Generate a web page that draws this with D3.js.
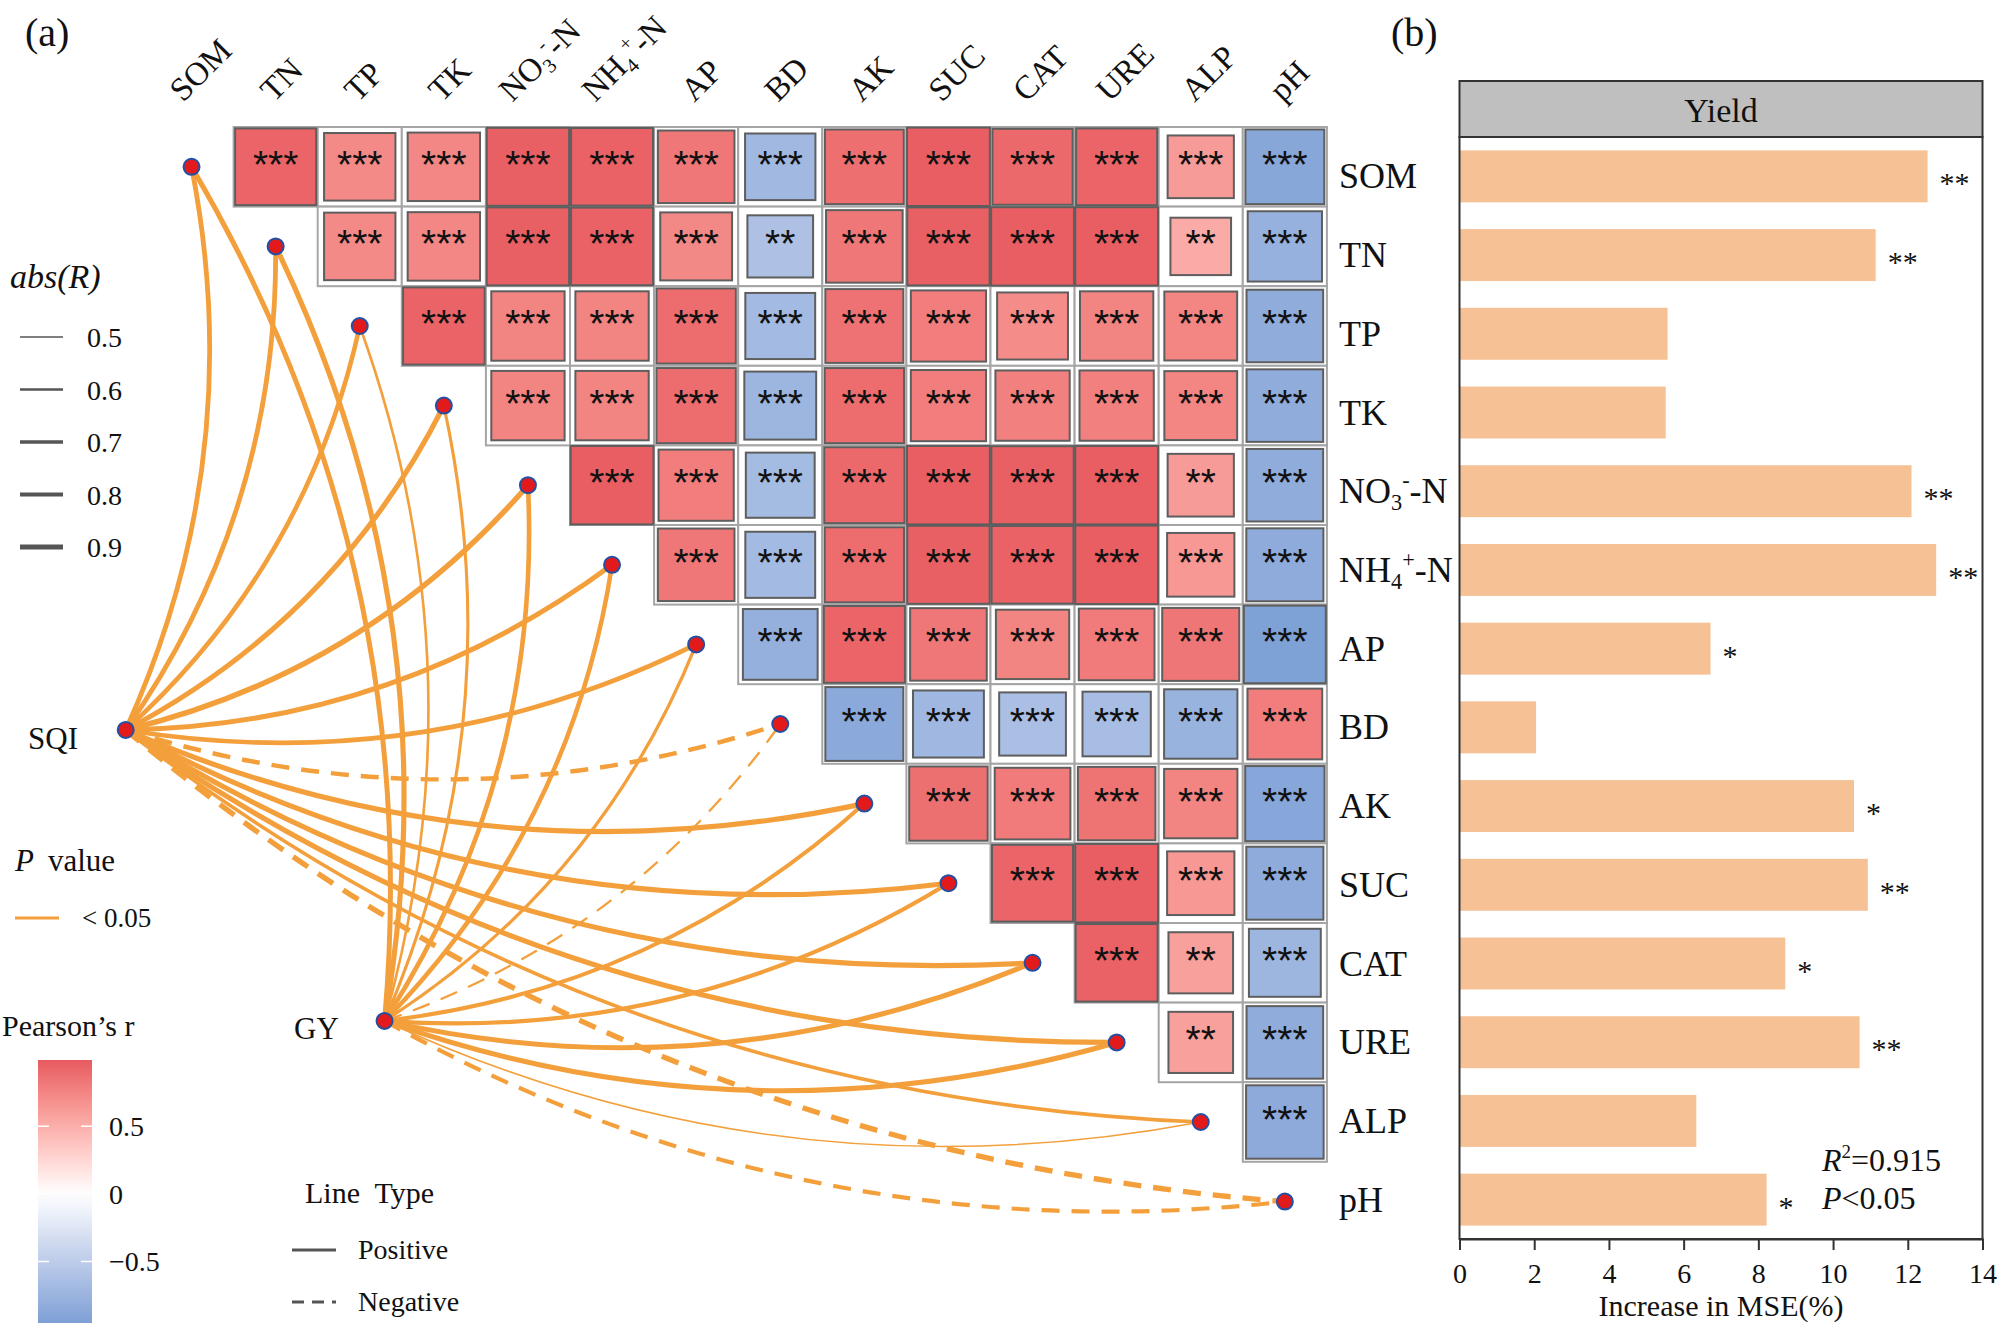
<!DOCTYPE html>
<html><head><meta charset="utf-8">
<script src="https://cdn.jsdelivr.net/npm/d3@7"></script>
<style>
body{margin:0;background:#fff}
svg{display:block}
text{font-family:"Liberation Serif","Times New Roman",serif;fill:#111}
</style>
</head><body>
<svg id="chart" width="2000" height="1333"></svg>
<script>
// ---------------- DATA ----------------
const variables = ["SOM","TN","TP","TK","NO3","NH4","AP","BD","AK","SUC","CAT","URE","ALP","pH"];
const labelParts = {
  NO3: [["NO",""],["3","sub"],["-","sup"],["-N",""]],
  NH4: [["NH",""],["4","sub"],["+","sup"],["-N",""]]
};
// Pearson's r, upper triangle: each row = row variable vs the following variables
const corrSOM = [0.93,0.72,0.74,0.96,0.95,0.83,-0.70,0.88,0.97,0.91,0.93,0.62,-0.88];
const corrTN  = [0.72,0.74,0.96,0.95,0.73,-0.61,0.83,0.96,0.97,0.97,0.52,-0.78];
const corrTP  = [0.94,0.76,0.76,0.89,-0.69,0.86,0.80,0.71,0.76,0.75,-0.83];
const corrTK  = [0.76,0.76,0.89,-0.73,0.89,0.80,0.78,0.78,0.75,-0.83];
const corrNO3 = [0.97,0.80,-0.67,0.91,0.97,0.96,0.97,0.62,-0.83];
const corrNH4 = [0.83,-0.69,0.89,0.96,0.95,0.97,0.64,-0.84];
const corrAP  = [-0.79,0.93,0.83,0.76,0.81,0.84,-0.95];
const corrBD  = [-0.86,-0.71,-0.63,-0.66,-0.76,0.79];
const corrAK  = [0.87,0.81,0.85,0.76,-0.89];
const corrSUC = [0.93,0.97,0.64,-0.84];
const corrCAT = [0.95,0.59,-0.73];
const corrURE = [0.59,-0.83];
const corrALP = [-0.85];
const corrRows = [corrSOM,corrTN,corrTP,corrTK,corrNO3,corrNH4,corrAP,corrBD,corrAK,corrSUC,corrCAT,corrURE,corrALP];
const twoStarPairs = [["TN","BD"],["TN","ALP"],["NO3","ALP"],["CAT","ALP"],["URE","ALP"]];

// links: r of SQI and GY with each variable (sign -> line type)
const envNames = ["SQI","GY"];
const sqiR = [0.88,0.88,0.85,0.92,0.95,0.90,0.86,-0.84,0.92,0.92,0.92,0.92,0.74,-0.94];
const gyR  = [0.90,0.92,0.62,0.68,0.86,0.84,0.70,-0.58,0.78,0.80,0.90,0.92,0.50,-0.80];
const envGridPos = {SQI:[-0.283,7.575], GY:[2.795,11.23]}; // in grid units

// Random forest importance (panel b)
const mseIncrease = [12.53,11.14,5.57,5.52,12.10,12.76,6.72,2.05,10.56,10.93,8.72,10.71,6.34,8.22];
const mseSig = ["**","**","","","**","**","*","","*","**","*","**","","*"];
const mseTicks = [0,2,4,6,8,10,12,14];
const absRLegend = [0.5,0.6,0.7,0.8,0.9];
const colorbarTicks = [0.5,0,-0.5];

// ---------------- SCALES ----------------
const svg = d3.select("#chart");
const SERIF = "'Liberation Serif','Times New Roman',serif";
const gridLeft = 149.5, gridTop = 127, cellW = 84.1, cellH = 79.6;
const xCell = d3.scaleBand().domain(variables).range([gridLeft, gridLeft + cellW*14]);
const yCell = d3.scaleBand().domain(variables).range([gridTop, gridTop + cellH*14]);
const gx = d3.scaleLinear().domain([0,14]).range([gridLeft, gridLeft + cellW*14]);
const gy = d3.scaleLinear().domain([0,14]).range([gridTop, gridTop + cellH*14]);
const color = d3.scaleLinear().domain([-1,0,1]).range(["#779CD4","#ffffff","#E7585E"]).interpolate(d3.interpolateLab);
const widthScale = d3.scaleLinear().domain([0.5,0.9]).range([1.6,5.0]);
const linkColor = "#F3A03C";

function addLabel(sel, v, fs){
  const parts = labelParts[v] || [[v,""]];
  let shift = 0;
  parts.forEach(([t,type])=>{
    const ts = sel.append("tspan").text(t);
    const target = type==="sub" ? 0.2*fs : type==="sup" ? -0.42*fs : 0;
    ts.attr("dy", target - shift); shift = target;
    if (type) ts.attr("font-size", fs*0.62);
  });
}

// ---------------- PANEL LABELS ----------------
svg.append("text").attr("x",25).attr("y",46).attr("font-size",40).text("(a)");
svg.append("text").attr("x",1391).attr("y",46).attr("font-size",40).text("(b)");

// ---------------- COLUMN LABELS ----------------
variables.forEach(v=>{
  const t = svg.append("text").attr("font-size",33).style("font-family",SERIF);
  addLabel(t, v, 33);
  const len = t.node().getComputedTextLength();
  const ox = -2 - Math.max(0, 0.25*(len-45));
  t.attr("transform",`translate(${xCell(v)+xCell.bandwidth()/2+ox},103) rotate(-45)`);
});

// ---------------- LINKS ----------------
function curvePath(s, t, k){
  const dx=t[0]-s[0], dy=t[1]-s[1], L=Math.hypot(dx,dy);
  const nx=-dy/L, ny=dx/L;
  const p=d3.path();
  p.moveTo(s[0],s[1]);
  p.quadraticCurveTo((s[0]+t[0])/2+nx*k*L,(s[1]+t[1])/2+ny*k*L,t[0],t[1]);
  return p.toString();
}
const nodePos = v => [xCell(v)+xCell.bandwidth()/2, yCell(v)+yCell.bandwidth()/2];
const envPos = e => [gx(envGridPos[e][0]), gy(envGridPos[e][1])];
const links = [];
variables.forEach((v,i)=>{
  links.push({env:"SQI", v, r:sqiR[i]});
  links.push({env:"GY", v, r:gyR[i]});
});
const linkG = svg.append("g");
linkG.selectAll("path").data(links).join("path")
  .attr("d", d=>curvePath(envPos(d.env), nodePos(d.v), 0.16))
  .attr("fill","none").attr("stroke",linkColor)
  .attr("stroke-width", d=>widthScale(Math.abs(d.r)))
  .attr("stroke-dasharray", d=>d.r<0 ? "18,12" : null);

// ---------------- HEATMAP ----------------
const cells = [];
corrRows.forEach((row,i)=>{
  row.forEach((r,k)=>{
    const rv = variables[i], cv = variables[i+1+k];
    const two = twoStarPairs.some(p=>p[0]===rv && p[1]===cv);
    cells.push({rv, cv, r, sig: two ? "**" : "***"});
  });
});
const cellG = svg.append("g");
cellG.selectAll("rect.outer").data(cells).join("rect").attr("class","outer")
  .attr("x",d=>xCell(d.cv)).attr("y",d=>yCell(d.rv))
  .attr("width",xCell.bandwidth()).attr("height",yCell.bandwidth())
  .attr("fill","#fff").attr("stroke","#A5A5A5").attr("stroke-width",2);
cellG.selectAll("rect.inner").data(cells).join("rect").attr("class","inner")
  .each(function(d){
    const f = Math.sqrt(Math.abs(d.r));
    const w = xCell.bandwidth()*f, h = yCell.bandwidth()*f;
    d3.select(this)
      .attr("x", xCell(d.cv)+(xCell.bandwidth()-w)/2)
      .attr("y", yCell(d.rv)+(yCell.bandwidth()-h)/2)
      .attr("width", w).attr("height", h);
  })
  .attr("fill",d=>color(d.r)).attr("stroke","#5E5E5E").attr("stroke-width",2);
cellG.selectAll("text").data(cells).join("text")
  .attr("x",d=>xCell(d.cv)+xCell.bandwidth()/2)
  .attr("y",d=>yCell(d.rv)+yCell.bandwidth()/2+11)
  .attr("text-anchor","middle")
  .style("font-family","'Liberation Sans',Arial,sans-serif")
  .attr("font-size",39).text(d=>d.sig);

// ---------------- NODES ----------------
const nodeG = svg.append("g");
nodeG.selectAll("circle.n").data(variables).join("circle").attr("class","n")
  .attr("cx",v=>nodePos(v)[0]).attr("cy",v=>nodePos(v)[1]).attr("r",8)
  .attr("fill","#E31A1C").attr("stroke","#2450A4").attr("stroke-width",2);
nodeG.selectAll("circle.e").data(envNames).join("circle").attr("class","e")
  .attr("cx",e=>envPos(e)[0]).attr("cy",e=>envPos(e)[1]).attr("r",8)
  .attr("fill","#E31A1C").attr("stroke","#2450A4").attr("stroke-width",2);
svg.append("text").attr("x",28).attr("y",749).attr("font-size",31).text("SQI");
svg.append("text").attr("x",294).attr("y",1039).attr("font-size",31).text("GY");

// ---------------- LEGENDS ----------------
svg.append("text").attr("x",10).attr("y",288).attr("font-size",34).style("font-style","italic").text("abs(R)");
const absY = d3.scaleLinear().domain([0.5,0.9]).range([337,547]);
absRLegend.forEach(a=>{
  svg.append("line").attr("x1",20).attr("x2",63).attr("y1",absY(a)).attr("y2",absY(a))
    .attr("stroke","#555").attr("stroke-width",widthScale(a));
  svg.append("text").attr("x",87).attr("y",absY(a)+10).attr("font-size",28).text(a.toFixed(1));
});
const pv = svg.append("text").attr("x",15).attr("y",871).attr("font-size",31);
pv.append("tspan").style("font-style","italic").text("P");
pv.append("tspan").attr("dx",14).text("value");
svg.append("line").attr("x1",15).attr("x2",59).attr("y1",918).attr("y2",918).attr("stroke",linkColor).attr("stroke-width",3);
svg.append("text").attr("x",82).attr("y",927).attr("font-size",27).text("< 0.05");

svg.append("text").attr("x",2).attr("y",1036).attr("font-size",30).text("Pearson\u2019s r");
const cbY = d3.scaleLinear().domain([-0.955,0.99]).range([1323,1060]);
const grad = svg.append("defs").append("linearGradient").attr("id","cbgrad")
  .attr("x1",0).attr("y1",1).attr("x2",0).attr("y2",0);
d3.range(0,21).forEach(i=>{
  const v = -0.955 + (0.99+0.955)*i/20;
  grad.append("stop").attr("offset",i/20).attr("stop-color",color(v));
});
svg.append("rect").attr("x",38).attr("y",cbY(0.99)).attr("width",54).attr("height",cbY(-0.955)-cbY(0.99)).attr("fill","url(#cbgrad)");
colorbarTicks.forEach(t=>{
  svg.append("line").attr("x1",38).attr("x2",49).attr("y1",cbY(t)).attr("y2",cbY(t)).attr("stroke","#fff").attr("stroke-width",1.5);
  svg.append("line").attr("x1",81).attr("x2",92).attr("y1",cbY(t)).attr("y2",cbY(t)).attr("stroke","#fff").attr("stroke-width",1.5);
  svg.append("text").attr("x",109).attr("y",cbY(t)+10).attr("font-size",28).text(t<0 ? "\u2212"+Math.abs(t) : String(t));
});

svg.append("text").attr("x",305).attr("y",1203).attr("font-size",30).attr("xml:space","preserve").text("Line  Type");
svg.append("line").attr("x1",292).attr("x2",336).attr("y1",1250).attr("y2",1250).attr("stroke","#555").attr("stroke-width",3);
svg.append("text").attr("x",358).attr("y",1259).attr("font-size",28).text("Positive");
svg.append("line").attr("x1",292).attr("x2",336).attr("y1",1302).attr("y2",1302).attr("stroke","#555").attr("stroke-width",3).attr("stroke-dasharray","12,8");
svg.append("text").attr("x",358).attr("y",1311).attr("font-size",28).text("Negative");

// ---------------- PANEL (b) ----------------
const panelL = 1459.5, panelR = 1982.5, headTop = 81, panelTop = 137, panelBot = 1239;
const xBar = d3.scaleLinear().domain([0,14]).range([panelL,panelR]);
const yBar = d3.scaleBand().domain(variables).range([panelTop,panelBot]).paddingInner(0.34).paddingOuter(0.17);
const bG = svg.append("g");
bG.selectAll("rect.bar").data(variables).join("rect").attr("class","bar")
  .attr("x",xBar(0)).attr("y",v=>yBar(v))
  .attr("width",(v,i)=>xBar(mseIncrease[i])-xBar(0)).attr("height",yBar.bandwidth())
  .attr("fill","#F5C195");
bG.selectAll("text.sig").data(variables).join("text").attr("class","sig")
  .attr("x",(v,i)=>xBar(mseIncrease[i])+12)
  .attr("y",v=>yBar(v)+yBar.bandwidth()/2+17)
  .attr("font-size",30).text((v,i)=>mseSig[i]);
svg.append("rect").attr("x",panelL).attr("y",headTop).attr("width",panelR-panelL).attr("height",panelTop-headTop)
  .attr("fill","#BFBFBF").attr("stroke","#333").attr("stroke-width",2);
svg.append("text").attr("x",(panelL+panelR)/2).attr("y",122).attr("text-anchor","middle").attr("font-size",34).text("Yield");
svg.append("rect").attr("x",panelL).attr("y",panelTop).attr("width",panelR-panelL).attr("height",panelBot-panelTop)
  .attr("fill","none").attr("stroke","#333").attr("stroke-width",2);
variables.forEach(v=>{
  const t = svg.append("text").attr("x",1339).attr("y",yBar(v)+yBar.bandwidth()/2+12).attr("font-size",36);
  addLabel(t, v, 36);
});
const ax = svg.append("g").attr("transform",`translate(0,${panelBot})`)
  .call(d3.axisBottom(xBar).tickValues(mseTicks).tickSize(11).tickPadding(13).tickFormat(d3.format("d")));
ax.attr("font-family",SERIF);
ax.select(".domain").attr("stroke","#333").attr("stroke-width",2);
ax.selectAll(".tick line").attr("stroke","#333").attr("stroke-width",2);
ax.selectAll(".tick text").attr("font-size",28).attr("fill","#111");
svg.append("text").attr("x",(panelL+panelR)/2).attr("y",1316).attr("text-anchor","middle").attr("font-size",30).text("Increase in MSE(%)");
const r2 = svg.append("text").attr("x",1822).attr("y",1171).attr("font-size",32);
r2.append("tspan").style("font-style","italic").text("R");
r2.append("tspan").attr("font-size",19).attr("dy",-13).text("2");
r2.append("tspan").attr("dy",13).text("=0.915");
const pt = svg.append("text").attr("x",1822).attr("y",1209).attr("font-size",32);
pt.append("tspan").style("font-style","italic").text("P");
pt.append("tspan").text("<0.05");

// force serif family on all non-star text
svg.selectAll("text").filter(function(){ return !this.style.fontFamily; }).style("font-family",SERIF);
</script>
</body></html>
